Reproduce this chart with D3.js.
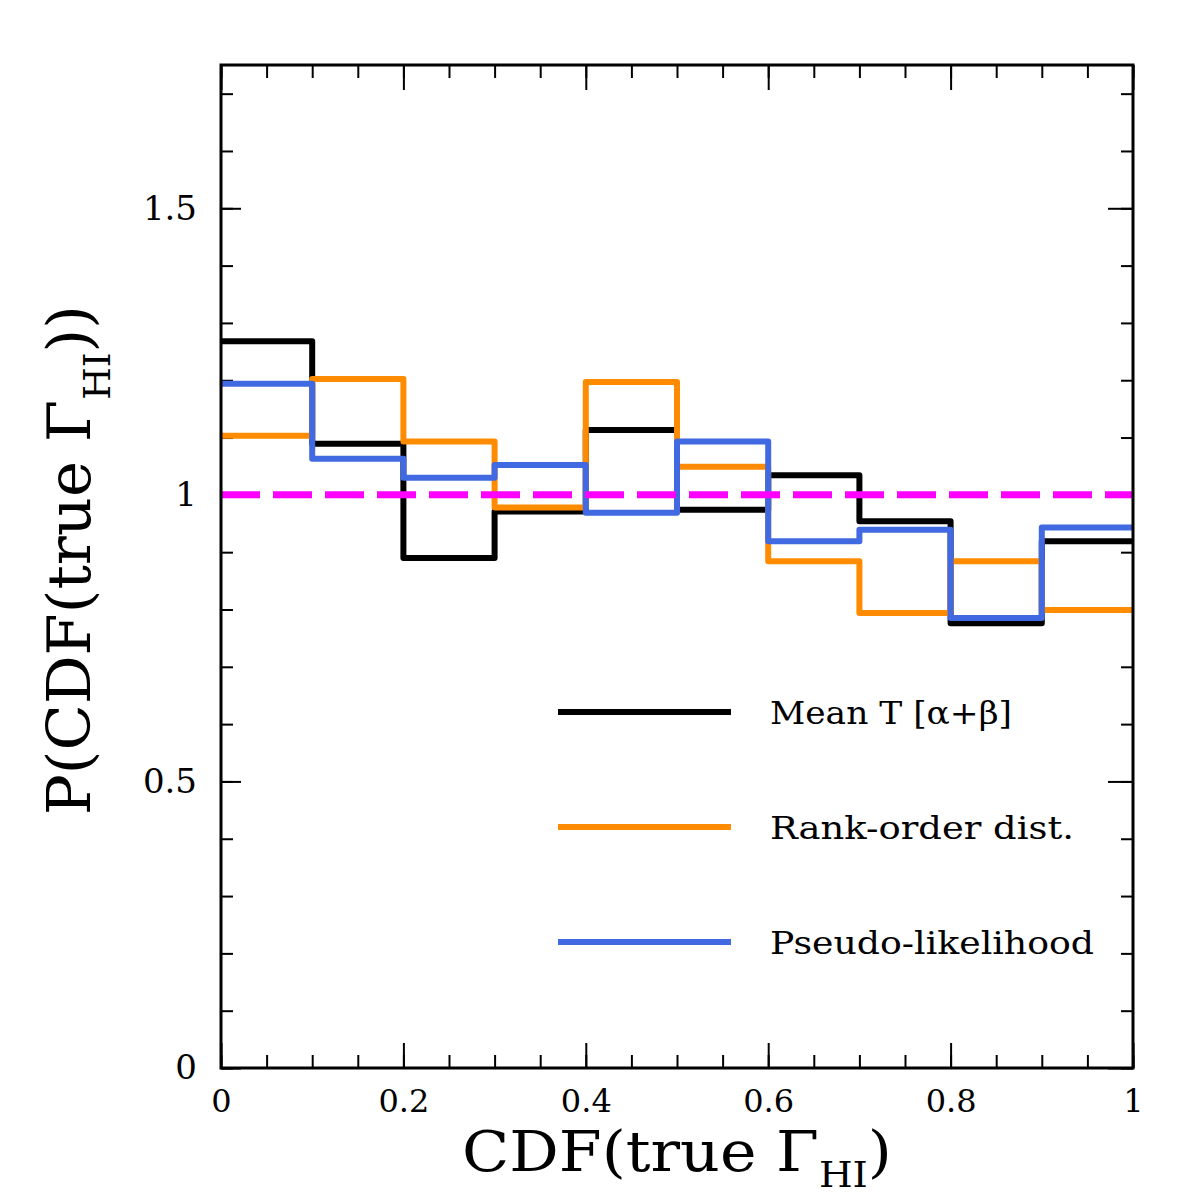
<!DOCTYPE html>
<html>
<head>
<meta charset="utf-8">
<script src="https://cdn.jsdelivr.net/npm/d3@7"></script>
<style>
  body { margin: 0; background: #fff; }
  text { font-family: "DejaVu Serif", serif; fill: #000; }
</style>
</head>
<body>
<div id="chart"></div>
<script>
// bin left edges, width 0.1
const binStart = [0, 0.1, 0.2, 0.3, 0.4, 0.5, 0.6, 0.7, 0.8, 0.9];
const meanT = [1.268, 1.089, 0.890, 0.971, 1.113, 0.974, 1.034, 0.954, 0.776, 0.919];
const rankOrder = [1.103, 1.202, 1.093, 0.978, 1.197, 1.049, 0.884, 0.794, 0.884, 0.799];
const pseudoLik = [1.194, 1.063, 1.030, 1.052, 0.969, 1.093, 0.919, 0.939, 0.785, 0.943];
const seriesNames = ["Mean T [\u03b1+\u03b2]", "Rank-order dist.", "Pseudo-likelihood"];
const seriesColors = ["#000000", "#ff8c00", "#4169e1"];
const xTicks = [0, 0.2, 0.4, 0.6, 0.8, 1];
const yTicks = [0, 0.5, 1, 1.5];
const refLevel = 1;

const width = 1196, height = 1196;
const margin = { top: 65, right: 63, bottom: 128, left: 221 };
const w = width - margin.left - margin.right;
const h = height - margin.top - margin.bottom;

const svg = d3.select("#chart").append("svg")
    .attr("width", width)
    .attr("height", height);

const g = svg.append("g")
    .attr("transform", `translate(${margin.left},${margin.top})`);

const x = d3.scaleLinear().domain([0, 1]).range([0, w]);
const y = d3.scaleLinear().domain([0, 1.75]).range([h, 0]);

const xMinor = d3.range(0, 1.0001, 0.05).map(d => +d.toFixed(2));
const yMinor = d3.range(0, 1.75, 0.1).map(d => +d.toFixed(1));

// ticks on all four sides, pointing in
function ticks(axis, transform, size, values, labels, pad) {
    const a = g.append("g")
        .attr("transform", transform)
        .call(axis.tickValues(values).tickSize(-size).tickPadding(pad || 24)
            .tickFormat(labels ? (d => String(d)) : ""));
    a.select(".domain").remove();
    a.selectAll("line").attr("stroke", "#000").attr("stroke-width", 2);
    return a;
}

ticks(d3.axisBottom(x), `translate(0,${h})`, 13, xMinor, false);
ticks(d3.axisTop(x), "translate(0,0)", 13, xMinor, false);
ticks(d3.axisLeft(y), "translate(0,0)", 12, yMinor, false);
ticks(d3.axisRight(y), `translate(${w},0)`, 12, yMinor, false);
ticks(d3.axisTop(x), "translate(0,0)", 25, xTicks, false);
ticks(d3.axisRight(y), `translate(${w},0)`, 25, yTicks, false);

const xAx = ticks(d3.axisBottom(x), `translate(0,${h})`, 25, xTicks, true, 21);
xAx.selectAll("text").style("font-size", "32px").style("font-family", "DejaVu Serif");
const yAx = ticks(d3.axisLeft(y), "translate(0,0)", 20, yTicks, true, 24);
yAx.selectAll("text").style("font-size", "34px").style("font-family", "DejaVu Serif");

// step lines
const stepLine = d3.line()
    .x(d => x(d[0]))
    .y(d => y(d[1]))
    .curve(d3.curveStepAfter);

[meanT, rankOrder, pseudoLik].forEach((vals, i) => {
    const pts = binStart.map((b, j) => [b, vals[j]]);
    pts.push([1, vals[vals.length - 1]]);
    g.append("path")
        .datum(pts)
        .attr("fill", "none")
        .attr("stroke", seriesColors[i])
        .attr("stroke-width", 6)
        .attr("stroke-linejoin", "round")
        .attr("d", stepLine);
});

// reference line at 1
g.append("line")
    .attr("x1", x(0)).attr("x2", x(1))
    .attr("y1", y(refLevel)).attr("y2", y(refLevel))
    .attr("stroke", "#ff00ff")
    .attr("stroke-width", 7)
    .attr("stroke-dasharray", "39,13");

// frame
g.append("rect")
    .attr("width", w).attr("height", h)
    .attr("fill", "none")
    .attr("stroke", "#000")
    .attr("stroke-width", 3);

// legend
const legendLens = [242, 304, 324];
const legend = svg.append("g")
    .selectAll("g")
    .data(seriesNames)
    .enter()
    .append("g")
    .attr("transform", (d, i) => `translate(558, ${712 + i * 115})`);

legend.append("line")
    .attr("x1", 0).attr("x2", 173)
    .attr("stroke", (d, i) => seriesColors[i])
    .attr("stroke-width", 6);

legend.append("text")
    .attr("x", 212)
    .attr("y", 12)
    .attr("textLength", (d, i) => legendLens[i])
    .attr("lengthAdjust", "spacingAndGlyphs")
    .style("font-size", "31px")
    .text(d => d);

// axis titles
const xt = svg.append("text")
    .attr("x", 462)
    .attr("y", 1171)
    .attr("textLength", 430)
    .attr("lengthAdjust", "spacingAndGlyphs")
    .style("font-size", "56px");
xt.append("tspan").text("CDF(true \u0393");
xt.append("tspan").attr("dy", 16).style("font-size", "35px").text("HI");
xt.append("tspan").attr("dy", -16).text(")");

const yt = svg.append("text")
    .attr("transform", "translate(90, 815) rotate(-90)")
    .attr("x", 0)
    .attr("y", 0)
    .attr("textLength", 510)
    .attr("lengthAdjust", "spacingAndGlyphs")
    .style("font-size", "60px");
yt.append("tspan").text("P(CDF(true \u0393");
yt.append("tspan").attr("dy", 20).style("font-size", "37px").text("HI");
yt.append("tspan").attr("dy", -20).text("))");
</script>
</body>
</html>
